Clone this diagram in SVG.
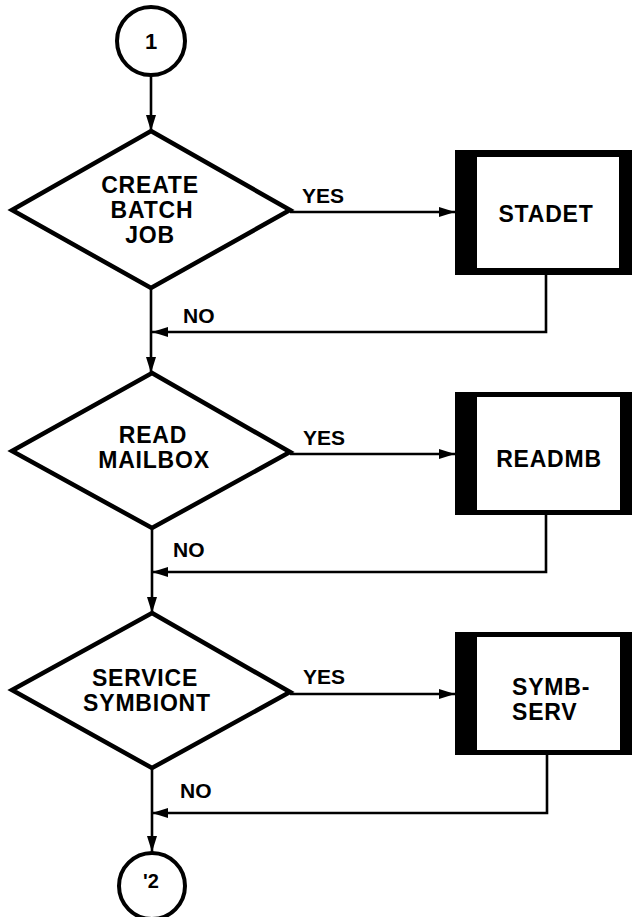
<svg xmlns="http://www.w3.org/2000/svg" width="632" height="917" viewBox="0 0 632 917">
  <style>
    .bg { fill: #ffffff; }
    .term { fill: #ffffff; stroke: #000000; stroke-width: 4; }
    .dec { fill: #ffffff; stroke: #000000; stroke-width: 4.5; stroke-linejoin: miter; }
    .frame { fill: #000000; }
    .inner { fill: #ffffff; }
    .txt { font-family: "Liberation Sans", Arial, sans-serif; font-weight: bold; fill: #000000; text-anchor: middle; }
    .big { font-size: 23px; letter-spacing: 0.8px; }
    .lbl { font-family: "Liberation Sans", Arial, sans-serif; font-weight: bold; font-size: 21px; fill: #000000; }
    .conn { fill: none; stroke: #000000; stroke-width: 2.6; }
  </style>
  <defs>
    <marker id="head" viewBox="0 0 16 10" refX="16" refY="5" markerWidth="16" markerHeight="10" markerUnits="userSpaceOnUse" orient="auto">
      <path d="M0,0 L16,5 L0,10 z" fill="#000000"/>
    </marker>
  </defs>

  <rect class="bg" x="0" y="0" width="632" height="917"/>

  <!-- connectors -->
  <g id="connectors">
    <path class="conn" d="M151,75 V131" marker-end="url(#head)"/>
    <path class="conn" d="M290,212 H455" marker-end="url(#head)"/>
    <path class="conn" d="M546,275 V332 H152" marker-end="url(#head)"/>
    <path class="conn" d="M151,288 V373" marker-end="url(#head)"/>
    <path class="conn" d="M290,454 H455" marker-end="url(#head)"/>
    <path class="conn" d="M546,515 V572 H152" marker-end="url(#head)"/>
    <path class="conn" d="M152,528 V613" marker-end="url(#head)"/>
    <path class="conn" d="M290,694 H455" marker-end="url(#head)"/>
    <path class="conn" d="M547,755 V813 H152" marker-end="url(#head)"/>
    <path class="conn" d="M152,768 V852" marker-end="url(#head)"/>
    <text class="lbl" x="302" y="203">YES</text>
    <text class="lbl" x="183" y="323">NO</text>
    <text class="lbl" x="303" y="445">YES</text>
    <text class="lbl" x="173" y="557">NO</text>
    <text class="lbl" x="303" y="684">YES</text>
    <text class="lbl" x="180" y="798">NO</text>
  </g>

  <!-- connector 1 -->
  <g id="start">
    <circle class="term" cx="151" cy="41" r="34"/>
    <text class="txt" x="151" y="49" font-size="22">1</text>
  </g>

  <g id="create-batch-job">
    <polygon class="dec" points="151,131 290,210 151,288 12,210"/>
    <text class="txt big" x="150" y="193">CREATE</text>
    <text class="txt big" x="152" y="218">BATCH</text>
    <text class="txt big" x="150" y="243">JOB</text>
  </g>

  <g id="stadet">
    <rect class="frame" x="455" y="150" width="177" height="125"/>
    <rect class="inner" x="477" y="157" width="142" height="111"/>
    <text class="txt big" x="546" y="222">STADET</text>
  </g>

  <g id="read-mailbox">
    <polygon class="dec" points="152,373 290,452 152,528 12,451"/>
    <text class="txt big" x="153" y="443">READ</text>
    <text class="txt big" x="154" y="468">MAILBOX</text>
  </g>

  <g id="readmb">
    <rect class="frame" x="455" y="392" width="177" height="123"/>
    <rect class="inner" x="477" y="397" width="143" height="113"/>
    <text class="txt big" x="549" y="467">READMB</text>
  </g>

  <g id="service-symbiont">
    <polygon class="dec" points="152,613 290,692 152,768 12,690"/>
    <text class="txt big" x="145" y="686">SERVICE</text>
    <text class="txt big" x="147" y="711">SYMBIONT</text>
  </g>

  <g id="symb-serv">
    <rect class="frame" x="455" y="632" width="177" height="123"/>
    <rect class="inner" x="477" y="637" width="143" height="113"/>
    <text class="txt big" x="512" y="695" style="text-anchor: start;">SYMB-</text>
    <text class="txt big" x="512" y="720" style="text-anchor: start;">SERV</text>
  </g>

  <!-- connector 2 -->
  <g id="end">
    <circle class="term" cx="152" cy="886" r="33"/>
    <text class="txt" x="151" y="888" font-size="20">'2</text>
  </g>
</svg>
